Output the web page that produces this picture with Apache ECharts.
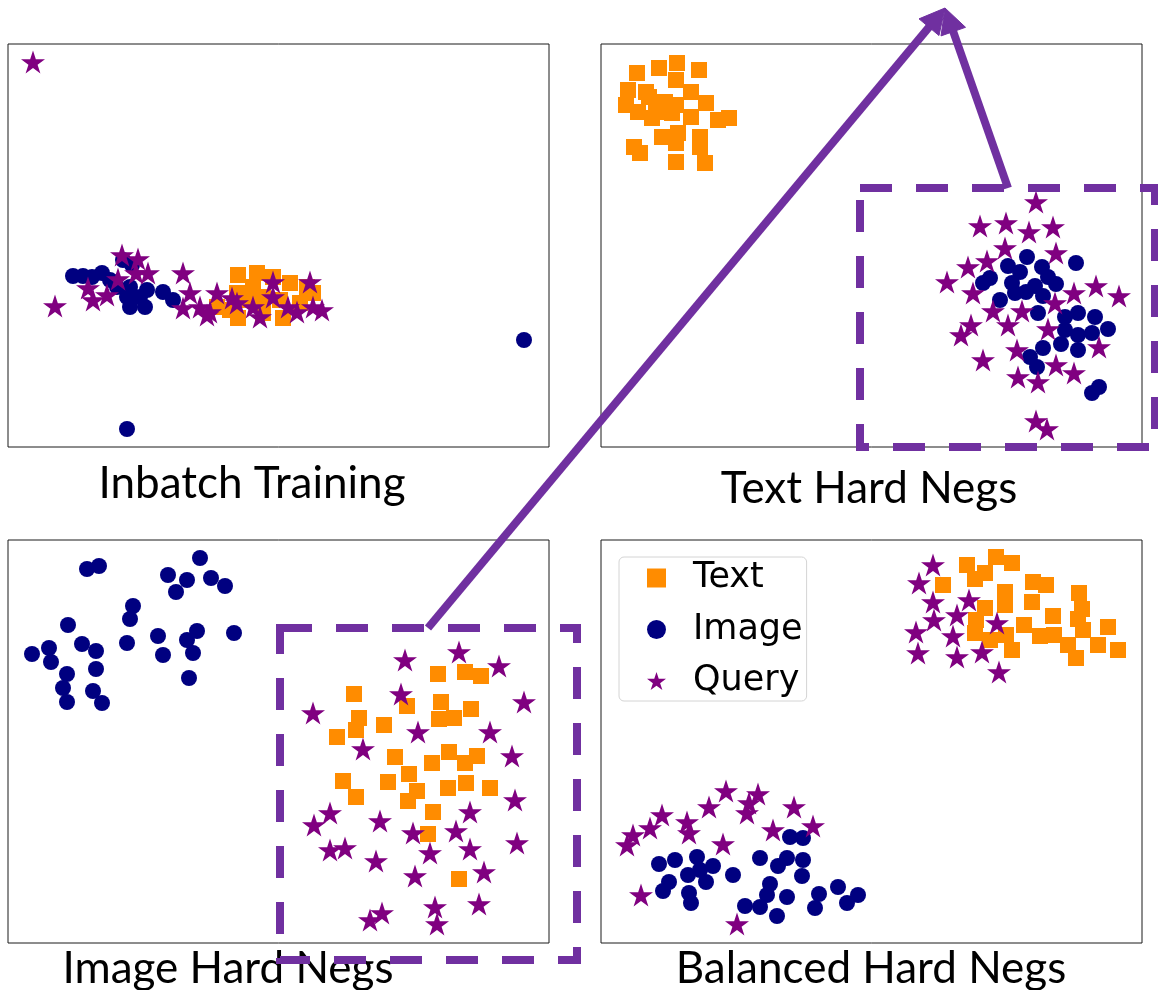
<!DOCTYPE html>
<html>
<head>
<meta charset="utf-8">
<script src="https://cdn.jsdelivr.net/npm/echarts@6/dist/echarts.min.js"></script>
<style>
html,body{margin:0;padding:0;background:#fff;}
#chart{width:1158px;height:990px;}
</style>
</head>
<body>
<div id="chart"></div>
<script>
// ---- Data (2-D embedding coordinates, per panel) ----
const panelTitles = ['Inbatch Training', 'Text Hard Negs', 'Image Hard Negs', 'Balanced Hard Negs'];
const seriesNames = ['Text', 'Image', 'Query'];

// Panel 1: Inbatch Training
const inbatchText = [[230,231],[249,229],[265,233],[282,239],[299,243],[305,249],[229,249],[239,256],[255,253],[272,256],[222,266],[230,274],[255,269],[275,274],[292,259],[209,263],[245,243]];
const inbatchImage = [[65,232],[75,232],[84,233],[94,229],[102,236],[115,216],[124,221],[122,243],[122,263],[132,253],[139,246],[137,263],[155,248],[165,256],[119,253],[109,243],[516,296],[119,385]];
const inbatchQuery = [[47,262],[114,211],[130,215],[110,235],[128,229],[140,229],[80,244],[85,256],[99,251],[175,229],[182,249],[175,264],[192,263],[199,271],[209,249],[229,259],[224,254],[245,263],[252,273],[265,238],[265,253],[280,263],[289,268],[302,238],[305,263],[314,266],[202,268],[25,18]];

// Panel 2: Text Hard Negs
const textHnText = [[36,29],[58,24],[76,19],[98,26],[27,46],[45,48],[75,36],[90,48],[25,61],[37,68],[51,74],[64,58],[75,61],[90,73],[105,59],[117,76],[128,74],[61,93],[77,89],[99,93],[33,103],[39,109],[75,99],[99,103],[75,118],[104,119],[55,68],[71,69],[48,53],[66,64]];
const textHnImage = [[426,213],[407,222],[419,228],[441,223],[475,219],[389,234],[382,239],[411,239],[434,242],[447,233],[455,240],[399,256],[414,249],[425,248],[442,252],[437,269],[464,273],[477,269],[494,273],[507,285],[491,289],[477,291],[464,286],[460,300],[477,306],[442,304],[429,313],[436,323],[498,343],[491,349]];
const textHnQuery = [[435,158],[379,182],[405,179],[428,188],[452,183],[404,204],[455,209],[367,223],[386,217],[346,238],[372,249],[473,249],[495,242],[518,252],[392,267],[421,267],[454,259],[370,281],[360,291],[407,281],[447,285],[416,306],[498,303],[382,316],[455,321],[473,329],[417,333],[437,338],[435,377],[446,385]];

// Panel 3: Image Hard Negs
const imageHnText = [[430,134],[457,132],[473,136],[346,154],[399,166],[433,162],[463,169],[431,179],[446,178],[351,178],[348,190],[376,185],[329,197],[387,217],[424,223],[441,212],[457,223],[469,216],[335,241],[348,257],[380,242],[401,234],[409,251],[400,261],[440,248],[458,243],[482,248],[425,272],[420,294],[451,339]];
const imageHnImage = [[79,29],[91,26],[192,18],[160,35],[179,40],[168,52],[203,38],[217,46],[125,66],[122,79],[60,85],[74,104],[88,111],[41,108],[24,114],[43,122],[119,103],[150,96],[155,115],[189,91],[179,100],[185,113],[226,93],[59,134],[88,129],[55,148],[85,151],[59,162],[94,163],[181,138]];
const imageHnQuery = [[397,120],[451,112],[491,126],[305,173],[393,154],[516,162],[410,192],[482,192],[355,209],[504,216],[507,260],[322,273],[306,285],[372,281],[405,293],[448,291],[462,272],[322,310],[337,308],[368,321],[422,313],[462,309],[509,303],[407,336],[476,332],[374,373],[362,380],[427,367],[429,384],[471,364]];

// Panel 4: Balanced Hard Negs
const balancedText = [[366,25],[395,17],[411,23],[384,33],[374,39],[342,45],[432,42],[445,45],[404,52],[431,62],[404,65],[478,53],[481,69],[384,68],[375,80],[452,76],[477,79],[423,85],[374,93],[389,100],[405,95],[439,96],[453,95],[482,90],[507,87],[467,105],[411,110],[497,105],[517,110],[475,118]];
const balancedImage = [[58,324],[74,320],[96,317],[112,326],[87,335],[105,342],[68,342],[62,351],[88,353],[90,363],[132,335],[189,297],[202,298],[159,318],[177,326],[186,318],[202,320],[201,336],[169,344],[166,355],[186,357],[144,366],[159,367],[176,376],[218,354],[214,368],[237,347],[257,355],[246,363],[99,330]];
const balancedQuery = [[26,305],[32,295],[49,288],[61,275],[86,282],[88,293],[108,267],[125,251],[157,254],[148,263],[146,273],[193,267],[172,290],[212,286],[122,304],[40,355],[136,384],[332,25],[318,43],[332,62],[368,60],[333,80],[356,75],[315,92],[352,96],[396,83],[317,113],[356,117],[381,112],[398,132]];

const panelData = [
  [inbatchText, inbatchImage, inbatchQuery],
  [textHnText, textHnImage, textHnQuery],
  [imageHnText, imageHnImage, imageHnQuery],
  [balancedText, balancedImage, balancedQuery]
];

// ---- Layout / style ----
const PW = 541, PH = 403;
const grids = [
  {left: 8, top: 44}, {left: 601, top: 44},
  {left: 8, top: 540}, {left: 601, top: 540}
];
const titlePos = [[252, 484], [869, 489], [228, 969], [871, 969]];
const colors = ['#FF8C00', '#000080', '#800080'];
const STAR = 'path://M100,0 L122.45,69.1 L195.1,69.1 L136.3,111.8 L158.8,180.9 L100,138.2 L41.2,180.9 L63.7,111.8 L4.9,69.1 L77.55,69.1 Z';
const symbols = ['rect', 'circle', STAR];
const symbolSizes = [16, 16, 24];
const ANN = '#7030A0';

const option = {
  animation: false,
  backgroundColor: '#fff',
  grid: grids.map(g => ({
    left: g.left, top: g.top, width: PW, height: PH,
    show: true, borderColor: '#1a1a1a', borderWidth: 1, backgroundColor: 'transparent'
  })),
  xAxis: grids.map((g, i) => ({type: 'value', gridIndex: i, min: 0, max: PW, show: false})),
  yAxis: grids.map((g, i) => ({type: 'value', gridIndex: i, min: 0, max: PH, inverse: true, show: false})),
  legend: {
    orient: 'vertical', left: 619, top: 557,
    data: seriesNames, selectedMode: false,
    itemWidth: 19, itemHeight: 19, itemGap: 15.5,
    padding: [3, 4, 2, 28],
    backgroundColor: '#fff', borderColor: '#d4d4d4', borderWidth: 1, borderRadius: 5,
    textStyle: {fontFamily: 'DejaVu Sans', fontSize: 35, color: '#000', lineHeight: 36, padding: [0, 0, 0, 22]}
  },
  series: [],
  graphic: []
};

panelData.forEach((sets, p) => {
  sets.forEach((pts, s) => {
    option.series.push({
      type: 'scatter', name: seriesNames[s],
      xAxisIndex: p, yAxisIndex: p,
      data: pts,
      symbol: symbols[s], symbolSize: symbolSizes[s], symbolKeepAspect: true,
      itemStyle: {color: colors[s], opacity: 1},
      emphasis: {disabled: true},
      z: 2 + s
    });
  });
});

// Panel titles
panelTitles.forEach((t, i) => {
  option.graphic.push({
    type: 'text', x: titlePos[i][0], y: titlePos[i][1], z: 50,
    style: {text: t, fontFamily: 'Lato', fontSize: 44, fill: '#000', align: 'center', verticalAlign: 'middle'}
  });
});

// Annotation boxes
[[860, 188, 295, 259], [280, 628, 297, 332]].forEach(r => {
  option.graphic.push({
    type: 'rect', z: 100,
    shape: {x: r[0], y: r[1], width: r[2], height: r[3]},
    style: {fill: 'none', stroke: ANN, lineWidth: 8, lineDash: [32, 24]}
  });
});

// Annotation arrows
function arrow(x1, y1, x2, y2) {
  const L = Math.hypot(x2 - x1, y2 - y1);
  const ux = (x2 - x1) / L, uy = (y2 - y1) / L;
  const hl = 25, hw = 13;
  const bx = x2 - ux * hl, by = y2 - uy * hl;
  option.graphic.push({
    type: 'polyline', z: 100,
    shape: {points: [[x1, y1], [bx + ux * 2, by + uy * 2]]},
    style: {stroke: ANN, lineWidth: 8, fill: 'none'}
  });
  option.graphic.push({
    type: 'polygon', z: 101,
    shape: {points: [[x2, y2], [bx - uy * hw, by + ux * hw], [bx + uy * hw, by - ux * hw]]},
    style: {fill: ANN, stroke: ANN, lineWidth: 1}
  });
}
arrow(428, 628, 945, 8);
arrow(1008, 188, 945, 8);

const chart = echarts.init(document.getElementById('chart'), null, {renderer: 'canvas'});
chart.setOption(option);
</script>
</body>
</html>
